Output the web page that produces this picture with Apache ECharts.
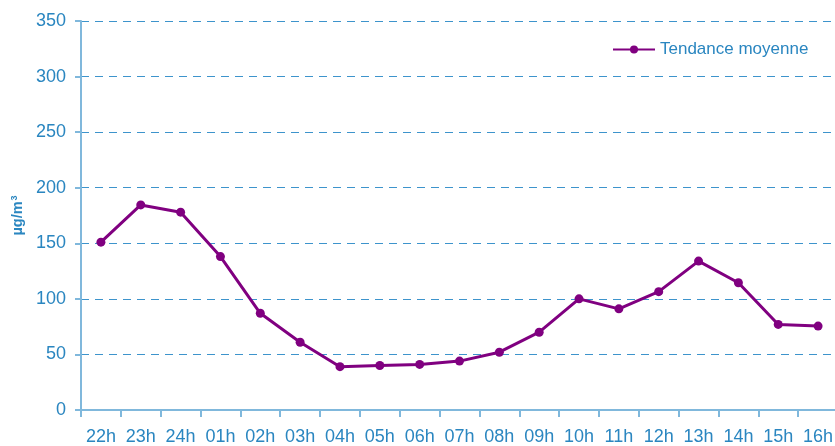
<!DOCTYPE html>
<html>
<head>
<meta charset="utf-8">
<script src="https://cdn.jsdelivr.net/npm/echarts@6/dist/echarts.min.js"></script>
<style>html,body{margin:0;padding:0;background:#fff}#c{width:835px;height:446px}</style>
</head>
<body>
<div id="c"></div>
<script>
const categories = ['22h','23h','24h','01h','02h','03h','04h','05h','06h','07h','08h','09h','10h','11h','12h','13h','14h','15h','16h'];
const tendance = [151, 184.5, 178, 138, 87, 61, 39, 40, 41, 44, 52, 70, 100, 91, 106.5, 134, 114.5, 77, 75.5];
const yTicks = {min: 0, max: 350, interval: 50};
const seriesName = 'Tendance moyenne';
const unitBase = 'µg/m';
const unitExp = '3';

const blueText = '#2a86c0';
const axisBlue = '#80b8dc';
const gridBlue = '#3d94cc';
const purple = '#800080';
const font = 'Liberation Sans, Arial, sans-serif';

const chart = echarts.init(document.getElementById('c'), null, {renderer: 'canvas'});
chart.setOption({
  animation: false,
  backgroundColor: '#ffffff',
  grid: {left: 81, right: -3, top: 21, bottom: 36, containLabel: false, outerBoundsMode: 'none'},
  legend: {
    data: [seriesName],
    left: 612, top: 41, padding: 0,
    itemWidth: 42, itemHeight: 10, itemGap: 5,
    textStyle: {color: blueText, fontSize: 17, fontFamily: font}
  },
  xAxis: {
    type: 'category',
    data: categories,
    boundaryGap: true,
    axisLine: {show: true, lineStyle: {color: axisBlue, width: 2}},
    axisTick: {show: true, alignWithLabel: false, interval: 0, length: 7, lineStyle: {color: axisBlue, width: 2}},
    axisLabel: {interval: 0, color: blueText, fontSize: 18, fontFamily: font, margin: 18},
    splitLine: {show: false}
  },
  yAxis: {
    type: 'value',
    min: yTicks.min, max: yTicks.max, interval: yTicks.interval,
    name: '{a|' + unitBase + '}{b|' + unitExp + '}',
    nameLocation: 'middle',
    nameGap: 55,
    nameRotate: 90,
    nameTextStyle: {
      color: blueText, fontFamily: font, fontWeight: 'bold',
      rich: {
        a: {color: blueText, fontSize: 14.5, fontWeight: 'bold', fontFamily: font},
        b: {color: blueText, fontSize: 9, fontWeight: 'bold', fontFamily: font, verticalAlign: 'top', padding: [0, 0, 6, 1]}
      }
    },
    axisLine: {show: true, lineStyle: {color: axisBlue, width: 2}},
    axisTick: {show: true, length: 6, lineStyle: {color: axisBlue, width: 2}},
    axisLabel: {color: blueText, fontSize: 18, fontFamily: font, margin: 15},
    splitLine: {show: true, lineStyle: {color: gridBlue, type: [8, 6], width: 1}}
  },
  series: [{
    name: seriesName,
    type: 'line',
    data: tendance,
    symbol: 'circle',
    symbolSize: 9,
    itemStyle: {color: purple},
    lineStyle: {color: purple, width: 3},
    z: 5
  }]
});
</script>
</body>
</html>
